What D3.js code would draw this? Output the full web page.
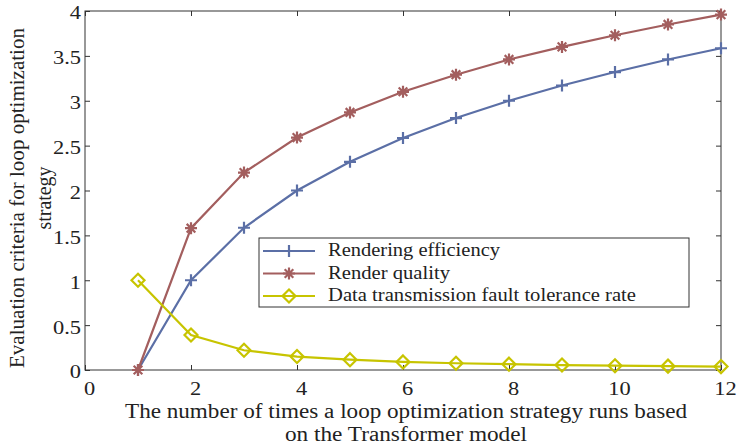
<!DOCTYPE html>
<html>
<head>
<meta charset="utf-8">
<script src="https://cdn.jsdelivr.net/npm/d3@7"></script>
<style>
  html, body { margin: 0; padding: 0; background: #fff; }
  svg { display: block; }
  text { font-family: "Liberation Serif", "Times New Roman", serif; fill: #222; }
</style>
</head>
<body>
<svg id="chart" width="744" height="446"></svg>
<script>
// Runs of the loop optimization strategy
const runs = [1, 2, 3, 4, 5, 6, 7, 8, 9, 10, 11, 12];
// Evaluation criteria per run
const renderingEfficiency = [0, 1.0, 1.585, 2.0, 2.32, 2.585, 2.807, 3.0, 3.17, 3.32, 3.46, 3.585];
const renderQuality = [0, 1.58, 2.2, 2.59, 2.87, 3.1, 3.29, 3.46, 3.6, 3.73, 3.85, 3.96];
const faultTolerance = [1.0, 0.39, 0.22, 0.15, 0.115, 0.09, 0.075, 0.065, 0.055, 0.048, 0.043, 0.038];

const seriesNames = ["Rendering efficiency", "Render quality", "Data transmission fault tolerance rate"];
const xTicks = [0, 2, 4, 6, 8, 10, 12];
const yTicks = [0, 0.5, 1, 1.5, 2, 2.5, 3, 3.5, 4];

const svg = d3.select("#chart");
const m = { left: 85, right: 23, top: 11, bottom: 76 };
const W = 744, H = 446;
const x = d3.scaleLinear().domain([0, 12]).range([m.left, W - m.right]);
const y = d3.scaleLinear().domain([0, 4]).range([H - m.bottom, m.top]);

const axisColor = "#333";
const tickLen = 5;

// Widen a text run to a given length (or by a factor of its natural length)
function widen(sel, k) {
  sel.each(function () {
    const len = this.getComputedTextLength();
    d3.select(this).attr("textLength", len * k).attr("lengthAdjust", "spacingAndGlyphs");
  });
}
function fitTo(sel, len) {
  sel.attr("textLength", len).attr("lengthAdjust", "spacingAndGlyphs");
}

// Frame
svg.append("rect")
  .attr("x", x(0)).attr("y", y(4))
  .attr("width", x(12) - x(0)).attr("height", y(0) - y(4))
  .attr("fill", "none").attr("stroke", axisColor).attr("stroke-width", 1);

function styleAxis(g) {
  g.select(".domain").remove();
  g.selectAll(".tick line").attr("stroke", axisColor);
  g.selectAll(".tick text").style("font-size", "19px").attr("fill", "#222");
}

const gx = svg.append("g").attr("transform", `translate(0,${y(0)})`)
  .call(d3.axisBottom(x).tickValues(xTicks).tickSizeInner(-tickLen).tickSizeOuter(0).tickPadding(12).tickFormat(d3.format("d")))
  .call(styleAxis);
gx.selectAll(".tick text").attr("dx", 4).call(widen, 1.18);
svg.append("g").attr("transform", `translate(0,${y(4)})`)
  .call(d3.axisTop(x).tickValues(xTicks).tickSizeInner(-tickLen).tickSizeOuter(0).tickFormat(""))
  .call(styleAxis);
const gy = svg.append("g").attr("transform", `translate(${x(0)},0)`)
  .call(d3.axisLeft(y).tickValues(yTicks).tickSizeInner(-tickLen).tickSizeOuter(0).tickPadding(4).tickFormat(d => String(d)))
  .call(styleAxis);
gy.selectAll(".tick text").attr("dy", "0.42em").call(widen, 1.18);
svg.append("g").attr("transform", `translate(${x(12)},0)`)
  .call(d3.axisRight(y).tickValues(yTicks).tickSizeInner(-tickLen).tickSizeOuter(0).tickFormat(""))
  .call(styleAxis);

// Axis titles
svg.append("text").attr("x", 406).attr("y", 418).attr("text-anchor", "middle")
  .style("font-size", "20px").text("The number of times a loop optimization strategy runs based")
  .call(fitTo, 562);
svg.append("text").attr("x", 406).attr("y", 441).attr("text-anchor", "middle")
  .style("font-size", "20px").text("on the Transformer model")
  .call(fitTo, 242);
svg.append("text").attr("transform", "translate(24,198) rotate(-90)").attr("text-anchor", "middle")
  .style("font-size", "20px").text("Evaluation criteria for loop optimization")
  .call(fitTo, 340);
svg.append("text").attr("transform", "translate(51,198) rotate(-90)").attr("text-anchor", "middle")
  .style("font-size", "20px").text("strategy")
  .call(fitTo, 63);

// Marker shapes
function plusPath(s) { return `M${-s},0H${s}M0,${-s}V${s}`; }
function starPath(s) {
  const d = s * 0.72;
  return `M${-s},0H${s}M0,${-s}V${s}M${-d},${-d}L${d},${d}M${-d},${d}L${d},${-d}`;
}
function diamondPath(s) { return `M0,${-s}L${s},0L0,${s}L${-s},0Z`; }

const series = [
  { name: seriesNames[0], values: renderingEfficiency, color: "#5b6fa6", marker: plusPath(6), width: 172 },
  { name: seriesNames[1], values: renderQuality, color: "#a35e5e", marker: starPath(6), width: 122 },
  { name: seriesNames[2], values: faultTolerance, color: "#c7c400", marker: diamondPath(6.5), width: 308 }
];

const line = d3.line().x((d, i) => x(runs[i])).y(d => y(d));

series.forEach(s => {
  svg.append("path").datum(s.values).attr("d", line)
    .attr("fill", "none").attr("stroke", s.color).attr("stroke-width", 2.2);
  svg.append("g").selectAll("path").data(s.values).join("path")
    .attr("transform", (d, i) => `translate(${x(runs[i])},${y(d)})`)
    .attr("d", s.marker).attr("fill", "none")
    .attr("stroke", s.color).attr("stroke-width", 2.2);
});

// Legend
const lg = svg.append("g").attr("transform", "translate(259,238)");
lg.append("rect").attr("x", 0).attr("y", 0).attr("width", 430).attr("height", 69)
  .attr("fill", "#fff").attr("stroke", axisColor).attr("stroke-width", 1);
series.forEach((s, i) => {
  const yy = 13 + i * 22.5;
  lg.append("line").attr("x1", 4).attr("x2", 56).attr("y1", yy).attr("y2", yy)
    .attr("stroke", s.color).attr("stroke-width", 2.2);
  lg.append("path").attr("transform", `translate(30,${yy})`).attr("d", s.marker)
    .attr("fill", "none").attr("stroke", s.color).attr("stroke-width", 2.2);
  lg.append("text").attr("x", 69).attr("y", yy + 5).style("font-size", "18px").text(s.name)
    .call(fitTo, s.width);
});
</script>
</body>
</html>
